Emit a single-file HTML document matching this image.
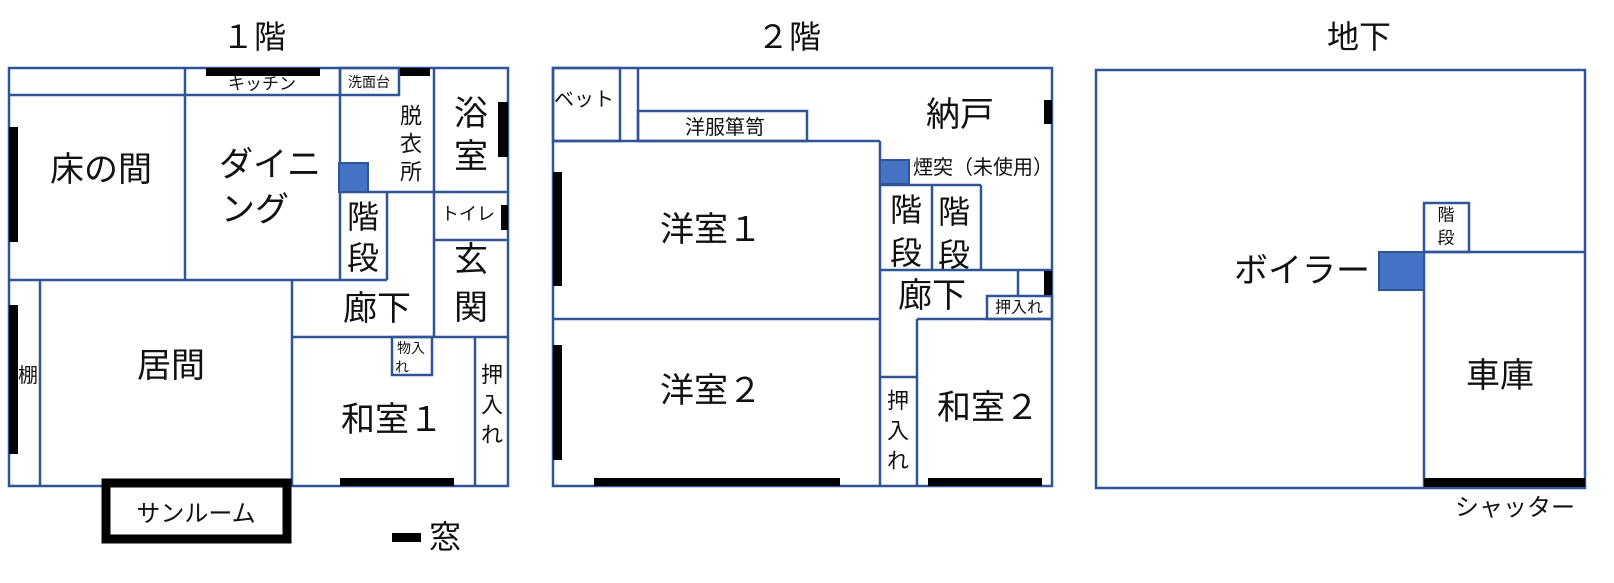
<!DOCTYPE html>
<html><head><meta charset="utf-8"><style>
html,body{margin:0;padding:0;background:#fff;}
svg{display:block;}
text{font-family:"Liberation Sans","Noto Sans CJK JP",sans-serif;fill:#111;}
</style></head><body>
<svg width="1614" height="583" viewBox="0 0 1614 583" xmlns="http://www.w3.org/2000/svg">
<g stroke="#2F5597" stroke-width="2.5" fill="none">
<!-- 1F -->
<rect x="9" y="68" width="499" height="418"/>
<line x1="9" y1="95" x2="340" y2="95"/>
<line x1="185" y1="68" x2="185" y2="280"/>
<line x1="340" y1="68" x2="340" y2="280"/>
<rect x="340" y="68" width="59" height="27"/>
<line x1="434" y1="68" x2="434" y2="337"/>
<line x1="340" y1="192" x2="508" y2="192"/>
<line x1="387" y1="192" x2="387" y2="280"/>
<line x1="9" y1="280" x2="387" y2="280"/>
<line x1="434" y1="240" x2="508" y2="240"/>
<line x1="40" y1="280" x2="40" y2="486"/>
<line x1="292" y1="280" x2="292" y2="486"/>
<line x1="292" y1="337" x2="508" y2="337"/>
<rect x="392" y="337" width="40" height="38"/>
<line x1="475" y1="337" x2="475" y2="486"/>
<!-- 2F -->
<rect x="553" y="68" width="499" height="418"/>
<rect x="553" y="68" width="67" height="73"/>
<line x1="638" y1="68" x2="638" y2="141"/>
<rect x="638" y="111" width="169" height="30"/>
<line x1="553" y1="141" x2="880" y2="141"/>
<line x1="880" y1="141" x2="880" y2="486"/>
<line x1="553" y1="319" x2="880" y2="319"/>
<line x1="880" y1="185" x2="981" y2="185"/>
<line x1="932" y1="185" x2="932" y2="270"/>
<line x1="981" y1="185" x2="981" y2="270"/>
<line x1="880" y1="270" x2="1052" y2="270"/>
<line x1="1018" y1="270" x2="1018" y2="296"/>
<rect x="987" y="296" width="65" height="23"/>
<line x1="917" y1="319" x2="1052" y2="319"/>
<line x1="917" y1="319" x2="917" y2="486"/>
<line x1="880" y1="377" x2="917" y2="377"/>
<!-- B -->
<rect x="1096" y="70" width="489" height="418"/>
<rect x="1424" y="203" width="45" height="49"/>
<line x1="1424" y1="252" x2="1585" y2="252"/>
<line x1="1424" y1="252" x2="1424" y2="488"/>
</g>
<!-- blue squares -->
<g fill="#4472C4" stroke="#2F5597" stroke-width="2">
<rect x="339" y="163" width="29" height="29"/>
<rect x="880" y="160" width="29" height="24"/>
<rect x="1379" y="252" width="45" height="38"/>
</g>
<!-- windows -->
<g fill="#000">
<rect x="206" y="68" width="114" height="8"/>
<rect x="400" y="68" width="30" height="8"/>
<rect x="498" y="102" width="10" height="55"/>
<rect x="501" y="205" width="7" height="25"/>
<rect x="9" y="127" width="9" height="115"/>
<rect x="9" y="305" width="9" height="149"/>
<rect x="340" y="478" width="114" height="8"/>
<rect x="392" y="533" width="29" height="9"/>
<rect x="553" y="172" width="9" height="114"/>
<rect x="553" y="345" width="9" height="115"/>
<rect x="594" y="478" width="246" height="8"/>
<rect x="1044" y="100" width="8" height="24"/>
<rect x="1044" y="271" width="8" height="24"/>
<rect x="928" y="478" width="114" height="8"/>
<rect x="1424" y="478" width="161" height="9"/>
</g>
<!-- sunroom -->
<rect x="106" y="483" width="181" height="56" fill="none" stroke="#000" stroke-width="9"/>
<g font-size="32"><text x="222" y="48">１階</text><text x="757" y="48">２階</text><text x="1327" y="48">地下</text></g>
<g dominant-baseline="central" text-anchor="middle">
<!-- 1F labels -->
<text x="101" y="170" font-size="34">床の間</text>
<text x="270" y="165" font-size="34">ダイニ</text>
<text x="255" y="210" font-size="34">ング</text>
<text x="262" y="84" font-size="17">キッチン</text>
<text x="369" y="82" font-size="14">洗面台</text>
<text x="411" y="116" font-size="22">脱</text>
<text x="411" y="144" font-size="22">衣</text>
<text x="411" y="172" font-size="22">所</text>
<text x="471" y="114" font-size="34">浴</text>
<text x="471" y="157" font-size="34">室</text>
<text x="468" y="214" font-size="18">トイレ</text>
<text x="471" y="260" font-size="34">玄</text>
<text x="471" y="308" font-size="34">関</text>
<text x="363" y="217" font-size="32">階</text>
<text x="363" y="258" font-size="32">段</text>
<text x="377" y="309" font-size="34">廊下</text>
<text x="171" y="366" font-size="34">居間</text>
<text x="28" y="376" font-size="20">棚</text>
<text x="411" y="348" font-size="14">物入</text>
<text x="402" y="367" font-size="14">れ</text>
<text x="392" y="420" font-size="34">和室１</text>
<text x="492" y="375" font-size="22">押</text>
<text x="492" y="405" font-size="22">入</text>
<text x="492" y="435" font-size="22">れ</text>
<text x="196" y="514" font-size="24">サンルーム</text>
<text x="445" y="537" font-size="32">窓</text>
<!-- 2F labels -->
<text x="584" y="100" font-size="20">ベット</text>
<text x="725" y="128" font-size="20">洋服箪笥</text>
<text x="960" y="115" font-size="34">納戸</text>
<text x="983" y="168" font-size="20">煙突（未使用）</text>
<text x="906" y="210" font-size="32">階</text>
<text x="906" y="253" font-size="32">段</text>
<text x="954" y="212" font-size="32">階</text>
<text x="954" y="255" font-size="32">段</text>
<text x="932" y="296" font-size="34">廊下</text>
<text x="1019" y="308" font-size="16">押入れ</text>
<text x="711" y="230" font-size="34">洋室１</text>
<text x="711" y="391" font-size="34">洋室２</text>
<text x="898" y="401" font-size="22">押</text>
<text x="898" y="431" font-size="22">入</text>
<text x="898" y="461" font-size="22">れ</text>
<text x="988" y="408" font-size="34">和室２</text>
<!-- B labels -->
<text x="1302" y="271" font-size="34">ボイラー</text>
<text x="1446" y="215" font-size="17">階</text>
<text x="1446" y="238" font-size="17">段</text>
<text x="1500" y="376" font-size="34">車庫</text>
<text x="1515" y="508" font-size="24">シャッター</text>
</g>
</svg>
</body></html>
